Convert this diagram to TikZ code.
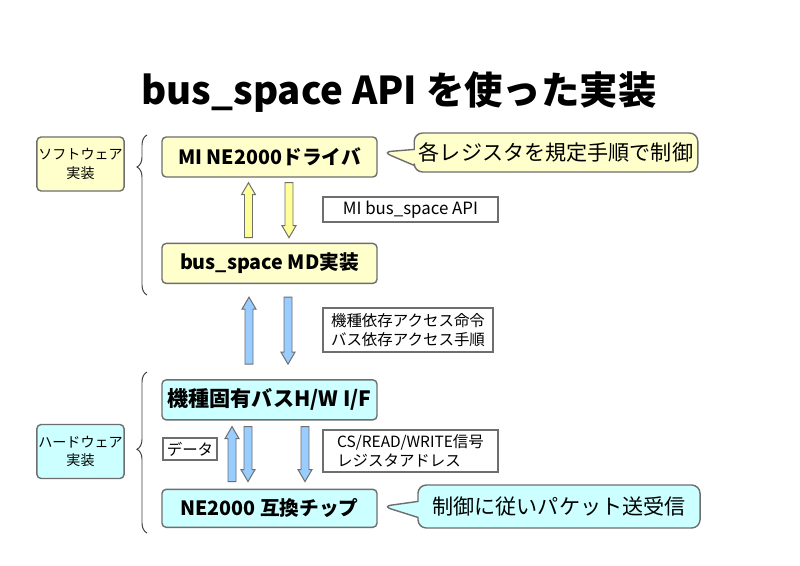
\documentclass[tikz,border=0pt]{standalone}
\usepackage{fontspec}
\setmainfont{Noto Sans CJK JP}
\usetikzlibrary{positioning,calc,shapes.callouts,decorations.pathreplacing}
\definecolor{swFill}{HTML}{FFFFCC}
\definecolor{swArrow}{HTML}{FFFF99}
\definecolor{hwFill}{HTML}{CCFFFF}
\definecolor{hwArrow}{HTML}{99CCFF}
\definecolor{edgeGray}{HTML}{6E6E6E}
\tikzset{
  sidebox/.style={draw=edgeGray, line width=1pt, rounded corners=3pt, align=center,
                  font=\fontsize{10}{13}\selectfont, minimum width=20.25mm, minimum height=13.5mm, inner sep=1pt},
  unitbox/.style={draw=edgeGray, line width=1pt, rounded corners=3pt, font=\fontsize{14}{16}\selectfont\bfseries,
                  minimum width=53.75mm, minimum height=10mm, inner sep=0pt},
  memo/.style={draw=edgeGray, line width=0.8pt, fill=white, align=left,
               font=\fontsize{11}{14}\selectfont, inner sep=0pt},
  remark/.style={rectangle callout, draw=edgeGray, line width=1pt, rounded corners=6pt,
                 font=\fontsize{15}{18}\selectfont, minimum width=70.5mm, callout pointer width=4mm},
  fatarrow/.style={draw=edgeGray, line width=0.7pt, fill=#1, to path={
      let \p1=(\tikztostart), \p2=(\tikztotarget), \n1={ifthenelse(\y2>\y1,1,-1)} in
      (\x1-1mm,\y1) -- (\x1-1mm,{\y2-(\n1)*3mm}) -- (\x1-1.75mm,{\y2-(\n1)*3mm}) -- (\x2,\y2)
      -- (\x1+1.75mm,{\y2-(\n1)*3mm}) -- (\x1+1mm,{\y2-(\n1)*3mm}) -- (\x1+1mm,\y1) -- cycle}},
  lbrace/.style={draw=black!75, line width=0.7pt, decorate, decoration={brace, amplitude=2.5mm, aspect=#1}},
}
\begin{document}
\begin{tikzpicture}[x=0.025cm, y=-0.025cm]
  \fill[white] (0,0) rectangle (800,565);
  \useasboundingbox (0,0) rectangle (800,565);

  \node[font=\fontsize{27.3}{31}\selectfont\bfseries] (title) at (399,92) {bus\_space API を使った実装};

  % software side
  \node[sidebox, fill=swFill] (swlabel) at (80.5,164) {ソフトウェア\\実装};
  \node[unitbox, fill=swFill] (drv) at (269.5,157) {MI NE2000ドライバ};
  \node[unitbox, fill=swFill, below=16.25mm of drv] (md) {bus\_space MD実装};
  \node[memo, minimum width=43.75mm, minimum height=6.25mm, font=\fontsize{12}{14}\selectfont] (api) at (410.5,209.5) {MI bus\_space API};
  \node[remark, fill=swFill, minimum height=9.75mm, callout absolute pointer={($(drv.east)+(5,-5)$)}]
    (ctrl) at (556,152.5) {各レジスタを規定手順で制御};

  % hardware side
  \node[sidebox, fill=hwFill] (hwlabel) at (80.5,451.5) {ハードウェア\\実装};
  \node[unitbox, fill=hwFill, below=23.75mm of md, font=\fontsize{15}{17}\selectfont\bfseries] (hwif) {機種固有バスH/W I/F};
  \node[unitbox, fill=hwFill, below=17mm of hwif, minimum height=9.5mm] (chip) {NE2000 互換チップ};
  \node[memo, minimum width=42.5mm, minimum height=11mm] (access) at (408,330) {機種依存アクセス命令\\バス依存アクセス手順};
  \node[memo, minimum width=43.75mm, minimum height=10.5mm] (signal) at (410.5,451) {CS/READ/WRITE信号\\レジスタアドレス};
  \node[memo, minimum width=13.5mm, minimum height=5.5mm] (data) at (190,449) {データ};
  \node[remark, fill=hwFill, minimum height=10.75mm, callout absolute pointer={($(chip.east)+(5,-2)$)}]
    (packet) at (559,506.5) {制御に従いパケット送受信};

  % arrows
  \draw[fatarrow=swArrow] ([shift={(-21,-5)}]md.north) to ([shift={(-21,5)}]drv.south);
  \draw[fatarrow=swArrow] ([shift={(19.5,5)}]drv.south) to ([shift={(19.5,-5)}]md.north);
  \draw[fatarrow=hwArrow] ([shift={(-20.5,-15)}]hwif.north) to ([shift={(-20.5,13)}]md.south);
  \draw[fatarrow=hwArrow] ([shift={(18.5,13)}]md.south) to ([shift={(18.5,-15)}]hwif.north);
  \draw[fatarrow=hwArrow] ([shift={(-37.5,-7)}]chip.north) to ([shift={(-37.5,6)}]hwif.south);
  \draw[fatarrow=hwArrow] ([shift={(-21.5,6)}]hwif.south) to ([shift={(-21.5,-7)}]chip.north);
  \draw[fatarrow=hwArrow] ([shift={(35.5,6)}]hwif.south) to ([shift={(35.5,-7)}]chip.north);

  % braces
  \coordinate (swbot) at (147,295);
  \coordinate (swtop) at (147,135);
  \coordinate (hwbot) at (147,533);
  \coordinate (hwtop) at (147,372);
  \draw[lbrace=0.8] (swbot) -- (swtop);
  \draw[lbrace=0.52] (hwbot) -- (hwtop);
\end{tikzpicture}
\end{document}
